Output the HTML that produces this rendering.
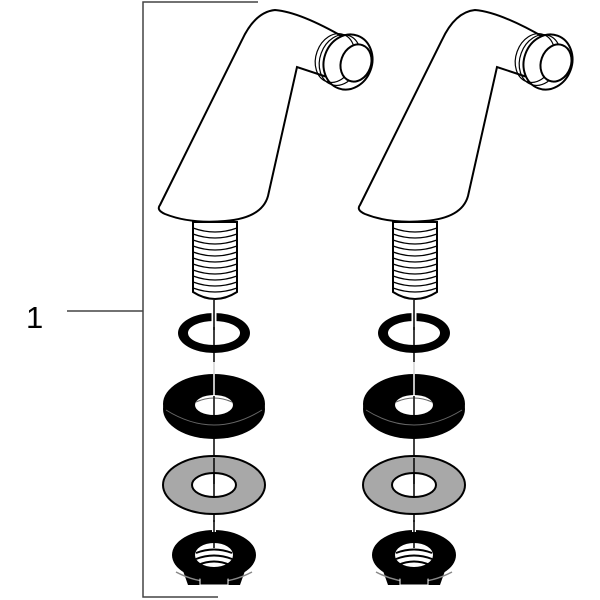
<!DOCTYPE html>
<html><head><style>body{margin:0;background:#fff}svg{display:block}</style></head><body>
<svg width="600" height="600" viewBox="0 0 600 600" xmlns="http://www.w3.org/2000/svg">
<defs>
<g id="a" stroke="#000" stroke-width="2" fill="#fff">
  <!-- stem thread -->
  <path d="M193 222 L193 292 Q215 306 237 292 L237 222 Z"/>
  <g fill="none" stroke-width="1.2">
    <path d="M193 228 Q215 236 237 228"/><path d="M193 234 Q215 242 237 234"/><path d="M193 240 Q215 248 237 240"/>
    <path d="M193 246 Q215 254 237 246"/><path d="M193 252 Q215 260 237 252"/><path d="M193 258 Q215 266 237 258"/>
    <path d="M193 264 Q215 272 237 264"/><path d="M193 270 Q215 278 237 270"/><path d="M193 276 Q215 284 237 276"/>
    <path d="M193 282 Q215 290 237 282"/><path d="M193 288 Q215 296 237 288"/>
  </g>
  <!-- body -->
  <path d="M160 205 L242 40 Q255 12 275 10 Q300 12 345 38 L330 78 L297 67 L268 196 Q262 218 225 221 Q190 224 165 214 Q156 210 160 205 Z"/>
  <!-- thread end -->
  <ellipse cx="348" cy="62" rx="24" ry="28" transform="rotate(20 348 62)"/>
  <g fill="none" stroke-width="1.2">
    <ellipse cx="340" cy="60" rx="20" ry="26" transform="rotate(20 340 60)"/>
    <ellipse cx="335" cy="58" rx="19" ry="25" transform="rotate(20 335 58)"/>
  </g>
  <ellipse cx="356" cy="63" rx="15" ry="19" transform="rotate(20 356 63)"/>
  <!-- axis -->
  <line x1="214" y1="300" x2="214" y2="560" stroke-width="1.5"/>
  <!-- o-ring -->
  <path fill="#000" fill-rule="evenodd" stroke="none" d="M178 333a36 20 0 1 0 72 0a36 20 0 1 0 -72 0Z M188 333a26 12 0 1 0 52 0a26 12 0 1 0 -52 0Z"/>
  <line x1="214" y1="306" x2="214" y2="327" stroke="#fff" stroke-width="5"/>
  <line x1="214" y1="306" x2="214" y2="330" stroke-width="1.5"/>
  <!-- black washer -->
  <ellipse cx="214" cy="409" rx="51" ry="30" fill="#000" stroke="none"/>
  <ellipse cx="214" cy="404" rx="51" ry="30" fill="#000" stroke="none"/>
  <path d="M166 410 Q214 440 262 410" stroke="#666" stroke-width="1" fill="none"/>
  <ellipse cx="214" cy="405" rx="19" ry="10" fill="#fff" stroke="none"/>
  <path d="M196 402 Q214 394 232 402" stroke="#666" stroke-width="1" fill="none"/>
  <line x1="214" y1="362" x2="214" y2="405" stroke="#fff" stroke-width="1.5"/>
  <line x1="214" y1="396" x2="214" y2="415" stroke="#000" stroke-width="1.5"/>
  <!-- gray washer -->
  <path fill="#a8a8a8" fill-rule="evenodd" stroke="#000" stroke-width="2" d="M163 485a51 29 0 1 0 102 0a51 29 0 1 0 -102 0Z M192 485a22 12 0 1 0 44 0a22 12 0 1 0 -44 0Z"/>
  <line x1="214" y1="458" x2="214" y2="484" stroke-width="1.5"/>
  <!-- nut -->
  <path d="M182 568 L188 585 L240 585 L246 568 Z" fill="#000" stroke="none"/>
  <path d="M176 572 Q214 592 252 572" fill="none" stroke="#888" stroke-width="1.5"/>
  <rect x="200" y="578" width="28" height="7" fill="#000" stroke="#fff" stroke-width="1"/>
  <ellipse cx="214" cy="555" rx="42" ry="25" fill="#000" stroke="none"/>
  <ellipse cx="214" cy="555" rx="19" ry="12" fill="#fff" stroke="none"/>
  <g fill="none" stroke="#000" stroke-width="2"><path d="M196 553 Q214 546 232 553"/><path d="M196 559 Q214 552 232 559"/><path d="M198 565 Q214 558 230 565"/></g>
  <rect x="212" y="522" width="4" height="10" fill="#fff" stroke="none"/>
  <line x1="214" y1="520" x2="214" y2="548" stroke-width="1.5"/>
</g>
</defs>
<g stroke="#444" stroke-width="1.5" fill="none">
  <polyline points="258,2 143,2 143,597 218,597"/>
  <line x1="67" y1="311" x2="143" y2="311"/>
</g>
<text x="26" y="328" font-family="'Liberation Sans', Arial, sans-serif" font-size="31" fill="#000">1</text>
<use href="#a"/>
<use href="#a" transform="translate(200,0)"/>
</svg>
</body></html>
